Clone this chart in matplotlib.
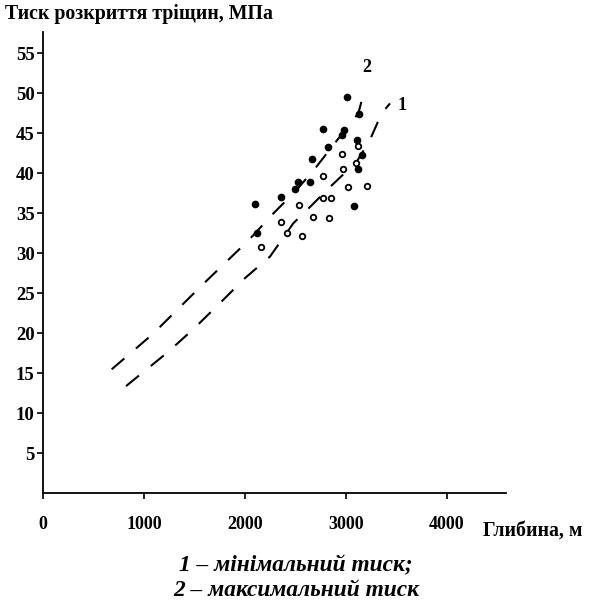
import matplotlib
matplotlib.use("Agg")
import matplotlib.pyplot as plt

plt.rcParams['lines.scale_dashes'] = False

# ---- data ----
# curve 2 (maximum pressure), dashed
line2_depth = [680, 1086, 1581, 2033, 2297, 2495, 2693, 2990, 3122, 3188]
line2_press = [15.5, 19.9, 26.1, 31.6, 35.2, 37.7, 40.6, 45.4, 47.5, 50.6]
# curve 1 (minimum pressure), dashed
line1_depth = [822, 1241, 1495, 1746, 2000, 2248, 2478, 2644, 2842, 3106, 3238, 3353, 3436]
line1_press = [13.4, 17.7, 20.6, 23.7, 26.9, 29.6, 33.75, 35.8, 38.3, 41.45, 44.2, 47.5, 48.75]

# filled points (maximum pressure)
max_depth = [3015, 3132, 2772, 2978, 2965, 3109, 2825, 2663, 3155, 3122,
             2522, 2644, 2495, 2356, 2096, 3076, 2122]
max_press = [49.6, 47.4, 45.5, 45.4, 44.85, 44.2, 43.3, 41.8, 42.3, 40.5,
             38.95, 38.9, 38.0, 37.0, 36.2, 35.95, 32.5]

# open points (minimum pressure)
min_depth = [3122, 2965, 3099, 2967, 2775, 3023, 3211, 2769, 2851, 2538,
             2670, 2835, 2359, 2413, 2561, 2155]
min_press = [43.45, 42.4, 41.35, 40.5, 39.7, 38.25, 38.4, 36.95, 36.95, 36.0,
             34.6, 34.45, 33.9, 32.5, 32.2, 30.75]

x_ticks = [0, 1000, 2000, 3000, 4000]
y_ticks = [5, 10, 15, 20, 25, 30, 35, 40, 45, 50, 55]

y_title = "Тиск розкриття тріщин, МПа"
x_title = "Глибина, м"
caption1 = "1 – мінімальний тиск;"
caption2 = "2 – максимальний тиск"

serif = ["Liberation Serif", "DejaVu Serif"]

fig = plt.figure(figsize=(5.93, 6.04), dpi=100)
ax = fig.add_axes([0.0725, 0.1833, 0.780, 0.764])

ax.plot(line2_depth, line2_press, color="black", lw=1.5, dashes=(12, 11))
ax.plot(line1_depth, line1_press, color="black", lw=1.5, dashes=(12, 11))

ax.plot(max_depth, max_press, "o", color="black", ms=4.5, zorder=3)
ax.plot(min_depth, min_press, "o", mfc="white", mec="black", mew=1.3, ms=4.0, zorder=3)

ax.set_xlim(0, 4580)
ax.set_ylim(0, 57.7)
for s in ("top", "right"):
    ax.spines[s].set_visible(False)
for s in ("left", "bottom"):
    ax.spines[s].set_linewidth(1.3)

ax.set_xticks(x_ticks)
ax.set_xticklabels([str(v) for v in x_ticks], fontfamily=serif, fontweight="bold", fontsize=13)
ax.set_yticks(y_ticks)
ax.set_yticklabels([str(v) for v in y_ticks], fontfamily=serif, fontweight="bold", fontsize=13.5)
ax.tick_params(axis="x", direction="out", length=4, width=1.2, pad=12)
ax.tick_params(axis="y", direction="out", length=4, width=1.2, pad=2)

ax.text(3208, 53.2, "2", fontfamily=serif, fontweight="bold", fontsize=13,
        ha="center", va="center")
ax.text(3554, 48.5, "1", fontfamily=serif, fontweight="bold", fontsize=13,
        ha="center", va="center")

fig.text(5 / 593, 1 - 14 / 604, y_title, fontfamily=serif, fontweight="bold",
         fontsize=14.3, ha="left", va="center")
fig.text(483 / 593, 1 - 531 / 604, x_title, fontfamily=serif, fontweight="bold",
         fontsize=14.3, ha="left", va="center")
fig.text(296 / 593, 1 - 566 / 604, caption1, fontfamily=serif, fontweight="bold",
         fontstyle="italic", fontsize=16.8, ha="center", va="center")
fig.text(296 / 593, 1 - 590 / 604, caption2, fontfamily=serif, fontweight="bold",
         fontstyle="italic", fontsize=16.8, ha="center", va="center")

fig.savefig("out.png", dpi=100)
